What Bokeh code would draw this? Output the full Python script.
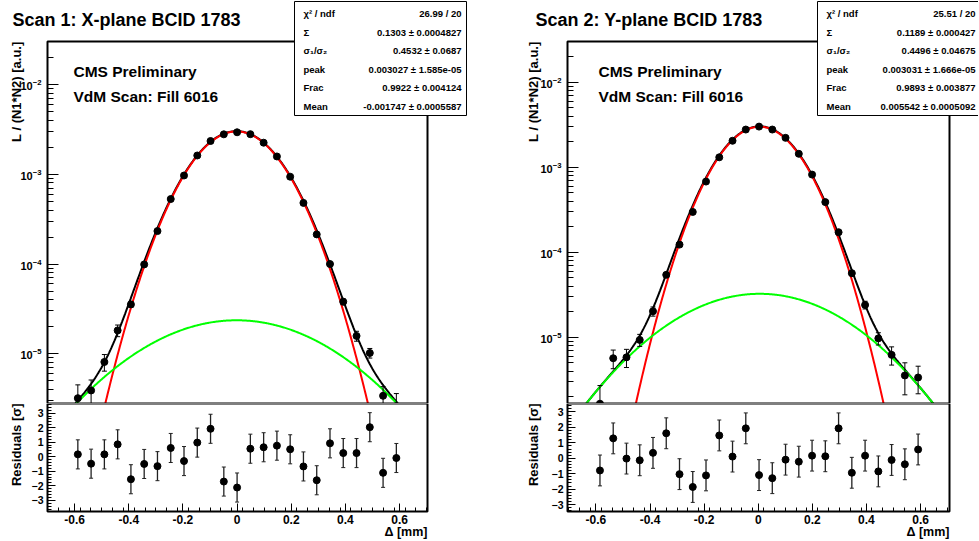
import numpy as np
from bokeh.plotting import figure
from bokeh.layouts import row, column
from bokeh.models import (Range1d, Label, BoxAnnotation, FixedTicker, LogAxis, LinearAxis)
from bokeh.embed import file_html
from bokeh.resources import INLINE

# ---------------- data ----------------
titles = ["Scan 1: X-plane BCID 1783", "Scan 2: Y-plane BCID 1783"]
cms_text = ["CMS Preliminary", "VdM Scan: Fill 6016"]
y_title = "L / (N1*N2) [a.u.]"
res_title = "Residuals [\u03c3]"
x_title = "\u0394 [mm]"

sep_x = [-0.588, -0.539, -0.490, -0.441, -0.392, -0.343, -0.294, -0.245, -0.196, -0.147,
         -0.098, -0.049, 0.0, 0.049, 0.098, 0.147, 0.196, 0.245, 0.294, 0.343,
         0.392, 0.441, 0.490, 0.539, 0.588]
sep_y = [-0.585, -0.536, -0.487, -0.438, -0.389, -0.340, -0.291, -0.242, -0.193, -0.144,
         -0.095, -0.046, 0.003, 0.052, 0.101, 0.150, 0.199, 0.248, 0.297, 0.346,
         0.395, 0.444, 0.493, 0.542, 0.591]

lumi_x = [3.2e-6, 3.9e-6, 8.1e-6, 1.82e-5, 3.55e-5, 9.9e-5, 2.33e-4, 5.3e-4, 9.7e-4, 1.62e-3,
          2.35e-3, 2.79e-3, 2.94e-3, 2.80e-3, 2.25e-3, 1.58e-3, 9.4e-4, 4.8e-4, 2.14e-4, 1.0e-4,
          3.8e-5, 1.58e-5, 1.02e-5, 3.4e-6, 2.6e-6]
lumi_x_err = [1.3e-6, 1.2e-6, 1.7e-6, 2.7e-6, 2.5e-6, 3e-6, 5e-6, 8e-6, 1.2e-5, 1.6e-5,
              2e-5, 2.2e-5, 2.2e-5, 2.2e-5, 2e-5, 1.6e-5, 1.2e-5, 8e-6, 5e-6, 3e-6,
              2.8e-6, 2.0e-6, 1.25e-6, 0.9e-6, 1.0e-6]
resid_x = [0.16, -0.48, 0.16, 0.85, -1.55, -0.50, -0.65, 0.60, -0.30, 0.97,
           1.92, -1.71, -2.12, 0.55, 0.65, 0.76, 0.51, -0.67, -1.62, 0.92,
           0.25, 0.25, 2.03, -1.11, -0.09]

lumi_y = [1.65e-6, 5.66e-6, 5.8e-6, 9.3e-6, 2.02e-5, 5.42e-5, 1.23e-4, 2.98e-4, 6.79e-4, 1.31e-3,
          2.05e-3, 2.78e-3, 3.01e-3, 2.78e-3, 2.22e-3, 1.44e-3, 8.2e-4, 3.89e-4, 1.72e-4, 5.67e-5,
          2.4e-5, 9.7e-6, 6.2e-6, 3.55e-6, 3.36e-6]
lumi_y_err = [1.05e-6, 1.4e-6, 1.4e-6, 1.5e-6, 2.5e-6, 3e-6, 5e-6, 8e-6, 1.2e-5, 1.6e-5,
              2e-5, 2.2e-5, 2.2e-5, 2.2e-5, 2e-5, 1.6e-5, 1.2e-5, 8e-6, 5e-6, 3e-6,
              2.5e-6, 1.6e-6, 1.5e-6, 1.45e-6, 1.2e-6]
resid_y = [-0.79, 1.29, -0.02, -0.13, 0.35, 1.62, -1.03, -1.86, -1.11, 1.48,
           0.11, 1.94, -1.09, -1.29, -0.09, -0.22, 0.17, 0.13, 1.94, -0.94,
           0.17, -0.85, -0.11, -0.39, 0.57]

# fit parameters (from the stat boxes): CapSigma, sigma1/sigma2, peak, Frac, Mean
fit_x = [0.1303, 0.4532, 0.003027, 0.9922, -0.001747]
fit_y = [0.1189, 0.4496, 0.003031, 0.9893, 0.005542]

stat_names = ["\u03c7\u00b2 / ndf", "\u03a3", "\u03c3\u2081/\u03c3\u2082", "peak", "Frac", "Mean"]
stat_vals_x = ["26.99 / 20", "0.1303 \u00b1 0.0004827", "0.4532 \u00b1 0.0687",
               "0.003027 \u00b1 1.585e-05", "0.9922 \u00b1 0.004124", "-0.001747 \u00b1 0.0005587"]
stat_vals_y = ["25.51 / 20", "0.1189 \u00b1 0.000427", "0.4496 \u00b1 0.04675",
               "0.003031 \u00b1 1.666e-05", "0.9893 \u00b1 0.003877", "0.005542 \u00b1 0.0005092"]

x_tick_vals = [-0.6, -0.4, -0.2, 0.0, 0.2, 0.4, 0.6]
log_tick_vals = [1e-5, 1e-4, 1e-3, 1e-2]
res_tick_vals = [-3, -2, -1, 0, 1, 2, 3]

FONT = "Liberation Sans"

# ---------------- layout geometry (pixels) ----------------
TOP_H = 403          # top pad canvas height
RES_H = 136          # residual pad canvas height
BOX_TOP = 41         # plot box top inside top pad
RES_BOX_H = 108      # residual plot box height


def fit_curves(params, x):
    capsig, ratio, peak, frac, mean = params
    s1 = capsig * (frac + (1 - frac) * ratio)
    s2 = s1 / ratio
    g1 = peak * frac * np.exp(-(x - mean) ** 2 / (2 * s1 ** 2))
    g2 = peak * (1 - frac) * np.exp(-(x - mean) ** 2 / (2 * s2 ** 2))
    return g1, g2, g1 + g2


def lab(p, x, y, text, size, align="left", baseline="alphabetic", angle=0.0, style="bold"):
    p.add_layout(Label(x=x, y=y, x_units="screen", y_units="screen", text=text,
                       text_font=FONT, text_font_size=f"{size}px", text_font_style=style,
                       text_align=align, text_baseline=baseline, angle=angle,
                       text_color="black", level="overlay"))


def style_common(p):
    p.xgrid.visible = False
    p.ygrid.visible = False
    p.outline_line_color = None
    p.background_fill_color = "white"
    p.border_fill_color = "white"
    p.min_border = 0


def style_axis(ax, size, standoff, tick_in, minor_in):
    ax.major_tick_in = tick_in
    ax.major_tick_out = 0
    ax.minor_tick_in = minor_in
    ax.minor_tick_out = 0
    ax.major_label_standoff = standoff
    ax.major_label_text_font = FONT
    ax.major_label_text_font_style = "bold"
    ax.major_label_text_font_size = f"{size}px"
    ax.major_label_text_color = "black"
    ax.axis_line_color = None
    ax.major_tick_line_color = "black"
    ax.minor_tick_line_color = "black"


def frame_box(p, x0, x1, y0, y1):
    p.quad(left=[x0], right=[x1], bottom=[y0], top=[y1], fill_color=None,
           line_color="black", line_width=2, line_alpha=1.0)


def panel(idx, xs, lum, lum_err, res, params, vals, W, box_l, box_w, xr, yr_top, yr_res,
          title_x, ylab_x, cms_x, stat_l, val_r):
    # x: plot box [box_l, box_l+box_w] px  <->  xr
    kx = (xr[1] - xr[0]) / box_w
    cx0 = xr[0] - box_l * kx
    cx1 = xr[1] + (W - box_l - box_w) * kx
    # log y for top pad: box from BOX_TOP to TOP_H
    lo, hi = np.log10(yr_top[0]), np.log10(yr_top[1])
    dec_px = (TOP_H - BOX_TOP) / (hi - lo)
    cy1 = 10 ** (hi + BOX_TOP / dec_px)

    top = figure(width=W, height=TOP_H, x_range=Range1d(cx0, cx1), y_range=Range1d(yr_top[0], cy1),
                 y_axis_type="log", x_axis_location=None, y_axis_location=None,
                 toolbar_location=None, output_backend="svg")
    style_common(top)

    xf = np.linspace(xr[0], xr[1], 500)
    g1, g2, tot = fit_curves(params, xf)
    top.line(xf, tot, line_color="black", line_width=2)
    top.line(xf, g1, line_color="#ff0000", line_width=2)
    top.line(xf, g2, line_color="#00ff00", line_width=2)

    xa = np.array(xs)
    la = np.array(lum)
    le = np.array(lum_err)
    top.segment(xa, la - le, xa, la + le, line_color="black", line_width=1)
    top.scatter(xa, la + le, marker="dash", size=5, line_color="black", line_width=1)
    top.scatter(xa, la - le, marker="dash", size=5, line_color="black", line_width=1)
    top.scatter(xa, la, size=7, fill_color="black", line_color="black")

    frame_box(top, xr[0], xr[1], yr_top[0], yr_top[1])

    ya = LogAxis(fixed_location=xr[0])
    ya.ticker = FixedTicker(ticks=log_tick_vals,
                            minor_ticks=[m * 10.0 ** e for e in range(-6, -1) for m in range(2, 10)
                                         if yr_top[0] <= m * 10.0 ** e <= yr_top[1]])
    style_axis(ya, 11, 6, 11, 6)
    top.add_layout(ya, "left")

    # texts (screen coords: x from canvas left, y from canvas bottom)
    lab(top, title_x, TOP_H - 19, titles[idx], 18)
    lab(top, ylab_x, TOP_H - BOX_TOP, y_title, 13, align="right", baseline="middle", angle=np.pi / 2)
    lab(top, cms_x, TOP_H - 71, cms_text[0], 15.5)
    lab(top, cms_x, TOP_H - 96, cms_text[1], 15.5)

    # stat box
    top.add_layout(BoxAnnotation(left=stat_l, right=stat_l + 172, top=TOP_H - 1, bottom=TOP_H - 115,
                                 left_units="screen", right_units="screen", top_units="screen",
                                 bottom_units="screen", fill_color="white", fill_alpha=1,
                                 line_color="black", line_width=1, line_alpha=1, level="overlay"))
    for i, (nm, vv) in enumerate(zip(stat_names, vals)):
        yy = TOP_H - (13.3 + 18.5 * i)
        lab(top, stat_l + 9, yy, nm, 9.5, baseline="middle")
        lab(top, val_r, yy, vv, 9.5, align="right", baseline="middle")

    # residual pad
    ky = (yr_res[1] - yr_res[0]) / RES_BOX_H
    ry0 = yr_res[0] - (RES_H - RES_BOX_H) * ky
    rp = figure(width=W, height=RES_H, x_range=Range1d(cx0, cx1), y_range=Range1d(ry0, yr_res[1]),
                x_axis_location=None, y_axis_location=None,
                toolbar_location=None, output_backend="svg")
    style_common(rp)

    ra = np.array(res)
    rp.segment(xa, ra - 1, xa, ra + 1, line_color="#222222", line_width=1.3)
    rp.scatter(xa, ra + 1, marker="dash", size=4, line_color="#222222", line_width=1)
    rp.scatter(xa, ra - 1, marker="dash", size=4, line_color="#222222", line_width=1)
    rp.scatter(xa, ra, size=7, fill_color="black", line_color="black")

    frame_box(rp, xr[0], xr[1], yr_res[0], yr_res[1])

    rx = LinearAxis(fixed_location=yr_res[0])
    rx.ticker = FixedTicker(ticks=x_tick_vals,
                            minor_ticks=[round(-0.7 + 0.04 * i, 3) for i in range(36)
                                         if xr[0] < -0.7 + 0.04 * i < xr[1]])
    rx.major_label_overrides = {v: (f"{v:.1f}" if abs(v) > 1e-9 else "0") for v in x_tick_vals}
    style_axis(rx, 12, 3, 8, 4)
    rp.add_layout(rx, "below")
    ry = LinearAxis(fixed_location=xr[0])
    ry.ticker = FixedTicker(ticks=res_tick_vals,
                            minor_ticks=[round(-3.6 + 0.2 * i, 2) for i in range(37)
                                         if yr_res[0] < -3.6 + 0.2 * i < yr_res[1]])
    style_axis(ry, 10.5, 4, 8, 4)
    rp.add_layout(ry, "left")

    lab(rp, ylab_x, RES_H, res_title, 13, align="right", baseline="middle", angle=np.pi / 2)
    lab(rp, box_l + box_w, 8, x_title, 12.5, align="right")
    return column(top, rp)


left = panel(0, sep_x, lumi_x, lumi_x_err, resid_x, fit_x, stat_vals_x,
             476, 47, 380, (-0.70, 0.703), (2.79e-6, 0.0302), (-3.77, 3.66),
             12, 16, 73, 294, 461)
right = panel(1, sep_y, lumi_y, lumi_y_err, resid_y, fit_y, stat_vals_y,
              502, 91, 382, (-0.705, 0.707), (1.66e-6, 0.0302), (-3.45, 3.55),
              59, 57, 122, 341, 499)

p = row(left, right)
open("out.html", "w").write(file_html(p, INLINE))
